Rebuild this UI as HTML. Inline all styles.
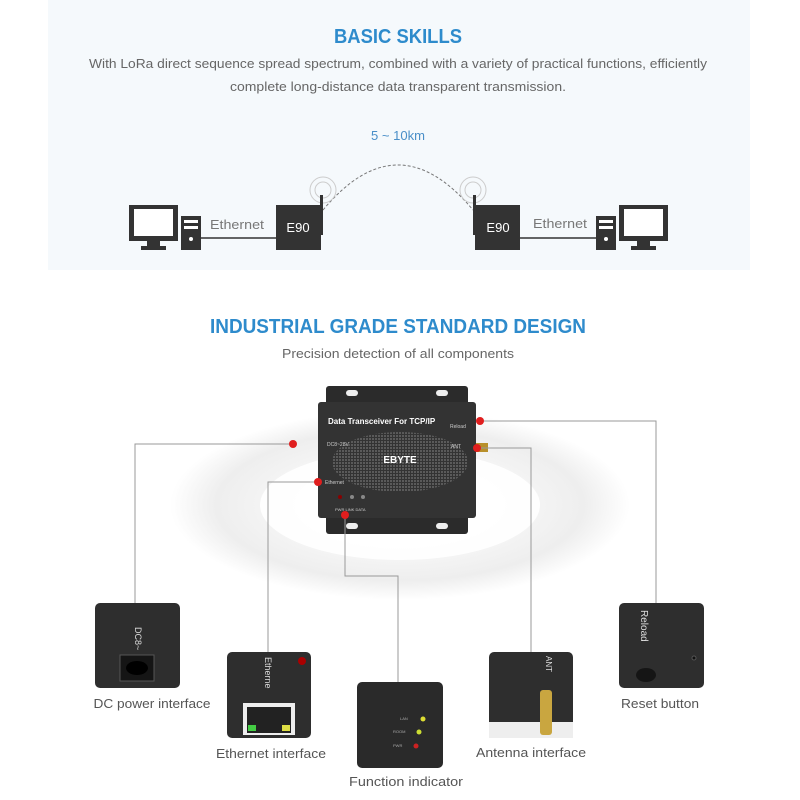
<!DOCTYPE html>
<html><head><meta charset="utf-8"><style>
html,body{margin:0;padding:0;background:#fff}
svg{display:block}
text{font-family:"Liberation Sans",sans-serif}
</style></head><body>
<svg width="800" height="800" viewBox="0 0 800 800" xmlns="http://www.w3.org/2000/svg">
<defs>
<radialGradient id="rg" cx="50%" cy="50%" r="50%">
<stop offset="0" stop-color="#fff"/><stop offset="0.55" stop-color="#f5f5f5"/><stop offset="0.8" stop-color="#eeeeee"/><stop offset="1" stop-color="#fff"/>
</radialGradient>
<pattern id="dots" width="3" height="3" patternUnits="userSpaceOnUse"><rect width="2" height="2" fill="#5a5a5a"/></pattern>
</defs>
<rect x="48" y="0" width="702" height="270" fill="#f5f9fc"/>
<g lengthAdjust="spacingAndGlyphs">
<text x="398" y="43" font-size="20" font-weight="bold" fill="#2e8bcc" text-anchor="middle" textLength="128" lengthAdjust="spacingAndGlyphs">BASIC SKILLS</text>
<text x="398" y="68" font-size="13" fill="#666" text-anchor="middle" textLength="618" lengthAdjust="spacingAndGlyphs">With LoRa direct sequence spread spectrum, combined with a variety of practical functions, efficiently</text>
<text x="398" y="91" font-size="13" fill="#666" text-anchor="middle" textLength="336" lengthAdjust="spacingAndGlyphs">complete long-distance data transparent transmission.</text>
<text x="398" y="140" font-size="13" fill="#4a8fc8" text-anchor="middle" textLength="54" lengthAdjust="spacingAndGlyphs">5 ~ 10km</text>
</g>
<path d="M323 210 Q398 120 473 210" fill="none" stroke="#777" stroke-dasharray="3,2"/>
<g fill="none" stroke="#ccc"><circle cx="323" cy="190" r="8"/><circle cx="323" cy="190" r="13"/><circle cx="473" cy="190" r="8"/><circle cx="473" cy="190" r="13"/></g>
<rect x="129" y="205" width="49" height="36" fill="#333"/><rect x="134" y="209" width="39" height="27" fill="#fff"/>
<rect x="147" y="241" width="13" height="6" fill="#333"/><rect x="141" y="246" width="25" height="4" fill="#333"/>
<rect x="181" y="216" width="20" height="34" fill="#333"/><rect x="184" y="220" width="14" height="3" fill="#fff"/><rect x="184" y="226" width="14" height="3" fill="#fff"/><circle cx="191" cy="239" r="2" fill="#fff"/>
<line x1="201" y1="238" x2="276" y2="238" stroke="#333" stroke-width="1.5"/>
<text x="237" y="229" font-size="13" fill="#777" text-anchor="middle" textLength="54" lengthAdjust="spacingAndGlyphs">Ethernet</text>
<rect x="276" y="205" width="45" height="45" fill="#333"/><text x="298" y="232" font-size="13" fill="#fff" text-anchor="middle">E90</text>
<rect x="320" y="195" width="3" height="40" fill="#333"/>
<rect x="475" y="205" width="45" height="45" fill="#333"/><text x="498" y="232" font-size="13" fill="#fff" text-anchor="middle">E90</text>
<rect x="473" y="195" width="3" height="40" fill="#333"/>
<line x1="520" y1="238" x2="596" y2="238" stroke="#333" stroke-width="1.5"/>
<text x="560" y="228" font-size="13" fill="#777" text-anchor="middle" textLength="54" lengthAdjust="spacingAndGlyphs">Ethernet</text>
<rect x="596" y="216" width="20" height="34" fill="#333"/><rect x="599" y="220" width="14" height="3" fill="#fff"/><rect x="599" y="226" width="14" height="3" fill="#fff"/><circle cx="606" cy="239" r="2" fill="#fff"/>
<rect x="619" y="205" width="49" height="36" fill="#333"/><rect x="624" y="209" width="39" height="27" fill="#fff"/>
<rect x="637" y="241" width="13" height="6" fill="#333"/><rect x="631" y="246" width="25" height="4" fill="#333"/>
<ellipse cx="400" cy="505" rx="230" ry="95" fill="url(#rg)"/>
<ellipse cx="400" cy="505" rx="140" ry="55" fill="#fff" opacity="0.9"/>
<text x="398" y="333" font-size="20" font-weight="bold" fill="#2e8bcc" text-anchor="middle" textLength="376" lengthAdjust="spacingAndGlyphs">INDUSTRIAL GRADE STANDARD DESIGN</text>
<text x="398" y="358" font-size="13" fill="#666" text-anchor="middle" textLength="232" lengthAdjust="spacingAndGlyphs">Precision detection of all components</text>
<rect x="326" y="386" width="142" height="148" rx="3" fill="#2b2b2b"/>
<rect x="318" y="402" width="158" height="116" rx="3" fill="#333"/>
<rect x="346" y="390" width="12" height="6" rx="3" fill="#eee"/><rect x="436" y="390" width="12" height="6" rx="3" fill="#eee"/>
<rect x="346" y="523" width="12" height="6" rx="3" fill="#eee"/><rect x="436" y="523" width="12" height="6" rx="3" fill="#eee"/>
<ellipse cx="400" cy="462" rx="68" ry="30" fill="url(#dots)"/>
<text x="328" y="424" font-size="8" font-weight="bold" fill="#fff">Data Transceiver For TCP/IP</text>
<text x="400" y="463" font-size="10" font-weight="bold" fill="#fff" text-anchor="middle">EBYTE</text>
<text x="327" y="446" font-size="5" fill="#ccc">DC8~28V</text>
<text x="325" y="484" font-size="5" fill="#ccc">Ethernet</text>
<text x="450" y="428" font-size="5" fill="#ccc">Reload</text>
<text x="451" y="448" font-size="5" fill="#ccc">ANT</text>
<text x="335" y="511" font-size="4" fill="#ccc">PWR LINK DATA</text>
<circle cx="340" cy="497" r="2" fill="#800"/><circle cx="352" cy="497" r="2" fill="#888"/><circle cx="363" cy="497" r="2" fill="#888"/>
<rect x="476" y="443" width="12" height="9" fill="#b8902a"/>
<g fill="none" stroke="#999" stroke-width="1">
<polyline points="293,444 135,444 135,603"/>
<polyline points="318,482 268,482 268,652"/>
<polyline points="345,515 345,576 398,576 398,682"/>
<polyline points="477,448 531,448 531,652"/>
<polyline points="480,421 656,421 656,603"/>
</g>
<g fill="#e01e1e"><circle cx="293" cy="444" r="4"/><circle cx="318" cy="482" r="4"/><circle cx="345" cy="515" r="4"/><circle cx="477" cy="448" r="4"/><circle cx="480" cy="421" r="4"/></g>
<rect x="95" y="603" width="85" height="85" rx="5" fill="#2e2e2e"/>
<rect x="120" y="655" width="34" height="26" fill="#151515" stroke="#555"/><ellipse cx="137" cy="668" rx="11" ry="7" fill="#000"/>
<text x="135" y="627" font-size="9" fill="#ddd" transform="rotate(90 135 627)">DC8~</text>
<text x="152" y="708" font-size="13" fill="#555" text-anchor="middle" textLength="117" lengthAdjust="spacingAndGlyphs">DC power interface</text>
<rect x="227" y="652" width="84" height="86" rx="5" fill="#2e2e2e"/>
<circle cx="302" cy="661" r="4" fill="#a00"/>
<text x="265" y="657" font-size="9" fill="#ddd" transform="rotate(90 265 657)">Etherne</text>
<rect x="243" y="703" width="52" height="32" fill="#eee"/><rect x="247" y="707" width="44" height="26" fill="#222"/>
<rect x="248" y="725" width="8" height="6" fill="#4c4"/><rect x="282" y="725" width="8" height="6" fill="#dd4"/>
<text x="271" y="758" font-size="13" fill="#555" text-anchor="middle" textLength="110" lengthAdjust="spacingAndGlyphs">Ethernet interface</text>
<rect x="357" y="682" width="86" height="86" rx="5" fill="#2a2a2a"/>
<circle cx="423" cy="719" r="2.5" fill="#dd3"/><circle cx="419" cy="732" r="2.5" fill="#cd3"/><circle cx="416" cy="746" r="2.5" fill="#c22"/>
<text x="400" y="720" font-size="4" fill="#aaa">LAN</text><text x="393" y="733" font-size="4" fill="#aaa">ROOM</text><text x="393" y="747" font-size="4" fill="#aaa">PWR</text>
<text x="406" y="786" font-size="13" fill="#555" text-anchor="middle" textLength="114" lengthAdjust="spacingAndGlyphs">Function indicator</text>
<rect x="489" y="652" width="84" height="86" rx="5" fill="#2e2e2e"/>
<rect x="489" y="722" width="84" height="16" fill="#eee"/>
<rect x="540" y="690" width="12" height="45" rx="3" fill="#c9a640"/>
<text x="546" y="656" font-size="8" fill="#ddd" transform="rotate(90 546 656)">ANT</text>
<text x="531" y="757" font-size="13" fill="#555" text-anchor="middle" textLength="110" lengthAdjust="spacingAndGlyphs">Antenna interface</text>
<rect x="619" y="603" width="85" height="85" rx="5" fill="#2e2e2e"/>
<ellipse cx="646" cy="675" rx="10" ry="7" fill="#151515"/><circle cx="694" cy="658" r="2" fill="#111" stroke="#555"/>
<text x="641" y="610" font-size="10" fill="#ddd" transform="rotate(90 641 610)">Reload</text>
<text x="660" y="708" font-size="13" fill="#555" text-anchor="middle" textLength="78" lengthAdjust="spacingAndGlyphs">Reset button</text>
</svg>
</body></html>
